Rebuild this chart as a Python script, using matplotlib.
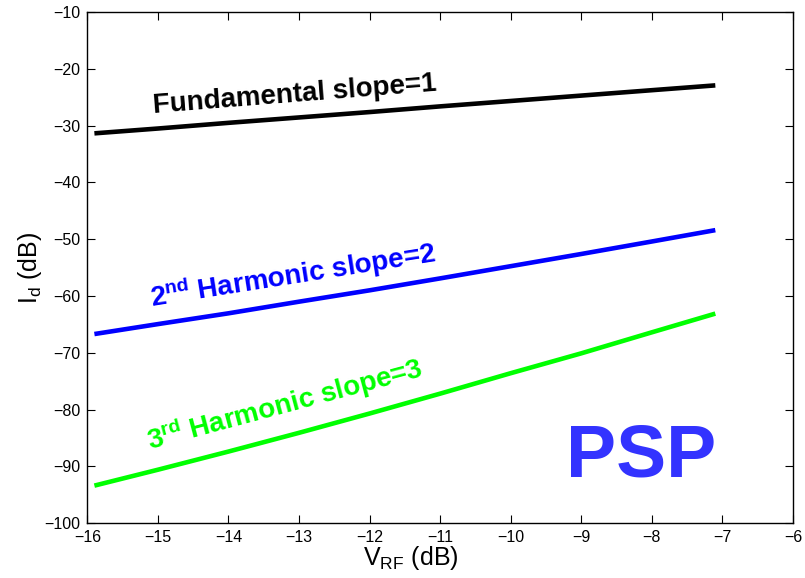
import numpy as np
import matplotlib
matplotlib.use('Agg')
import matplotlib.pyplot as plt

plt.rcParams['font.family'] = ['Liberation Sans', 'DejaVu Sans']
plt.rcParams['mathtext.fontset'] = 'custom'
plt.rcParams['mathtext.rm'] = 'Liberation Sans'
plt.rcParams['mathtext.it'] = 'Liberation Sans:italic'
plt.rcParams['mathtext.bf'] = 'Liberation Sans:bold'
plt.rcParams['axes.unicode_minus'] = True

# RF input level (dB)
v_rf = [-15.9, -15, -14, -13, -12, -11, -10, -9, -8, -7.1]

# drain current components (dB)
fundamental = [-31.35, -30.5, -29.5, -28.55, -27.6, -26.6, -25.65, -24.7, -23.75, -22.9]
harmonic2 = [-66.7, -64.95, -63.05, -61.0, -59.0, -56.9, -54.75, -52.6, -50.4, -48.4]
harmonic3 = [-93.4, -90.6, -87.4, -84.1, -80.7, -77.2, -73.6, -70.1, -66.4, -63.1]

xticks = np.arange(-16, -5, 1)
yticks = np.arange(-100, 0, 10)

fig = plt.figure(figsize=(8.05, 5.78), dpi=100)
ax = fig.add_axes([0.1085, 0.095, 0.8765, 0.884])

ax.plot(v_rf, fundamental, color='black', lw=3.3, solid_capstyle='butt')
ax.plot(v_rf, harmonic2, color='blue', lw=3.3, solid_capstyle='butt')
ax.plot(v_rf, harmonic3, color='#00ff00', lw=3.3, solid_capstyle='butt')

tkw = dict(fontsize=20, fontweight='bold', ha='left', va='baseline',
           rotation_mode='anchor')
ax.text(-15.06, -27.75, 'Fundamental slope=1', color='black', rotation=4.5, **tkw)
ax.text(-15.09, -61.9, r'$\mathbf{2^{nd}}$ Harmonic slope=2', color='blue',
        rotation=9.0, **tkw)
ax.text(-15.11, -87.1, r'$\mathbf{3^{rd}}$ Harmonic slope=3', color='#00ff00',
        rotation=15.0, **tkw)

ax.text(-9.22, -91.85, 'PSP', color='#3333ff', fontsize=54, fontweight='bold',
        ha='left', va='baseline')

ax.set_xlim(-16, -6)
ax.set_ylim(-100, -10)
ax.set_xticks(xticks)
ax.set_yticks(yticks)
ax.tick_params(direction='in', length=6, width=0.8, top=True, right=True,
               labelsize=11.5, pad=5)
for s in ax.spines.values():
    s.set_linewidth(1.0)

ax.set_xlabel(r'V$_{\mathrm{RF}}$ (dB)', fontsize=18)
ax.set_ylabel(r'I$_{\mathrm{d}}$ (dB)', fontsize=18)
ax.xaxis.set_label_coords(0.459, -0.04)
ax.yaxis.set_label_coords(-0.062, 0.5)

fig.savefig('out.png', dpi=100)
